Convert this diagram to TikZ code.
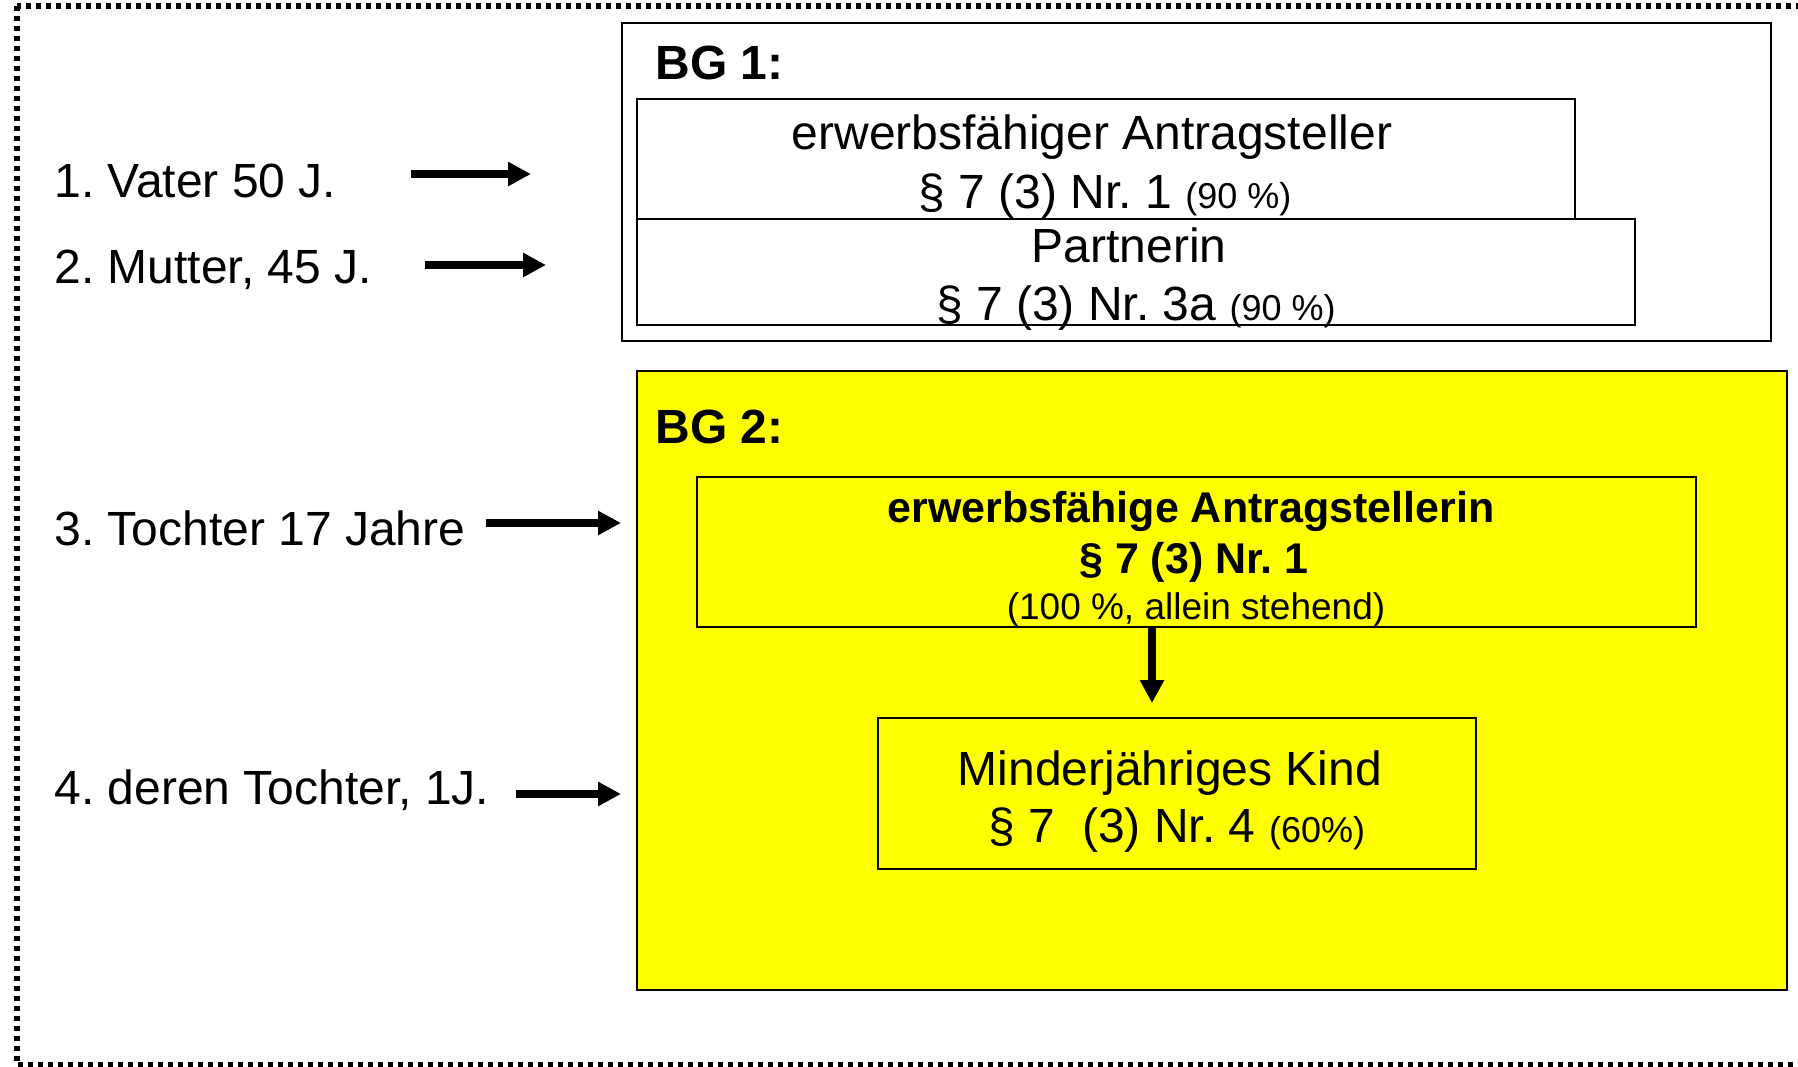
\documentclass[tikz,border=0pt]{standalone}
\usepackage{fontspec}
\setmainfont{Liberation Sans}
\usetikzlibrary{arrows.meta,fit}
\definecolor{ylw}{RGB}{255,255,0}
\tikzset{
  box/.style={draw=black, line width=1pt, fill=white, inner sep=0pt},
  ybox/.style={draw=black, line width=1pt, fill=ylw, inner sep=0pt},
  txt/.style={inner sep=0pt, font=\fontsize{24}{28}\selectfont},
  btxt/.style={inner sep=0pt, font=\fontsize{21.5}{25}\selectfont\bfseries},
  mtxt/.style={inner sep=0pt, font=\fontsize{18.5}{22}\selectfont},
  hdr/.style={inner sep=0pt, font=\fontsize{24}{28}\selectfont\bfseries},
  arr/.style={line width=4pt, -{Triangle[length=11.5pt,width=11.5pt]}},
  frame/.style={line width=2.6pt, dash pattern=on 2.6pt off 2.4pt}
}
\newcommand{\smallpct}[1]{{\fontsize{18}{20}\selectfont #1}}
\frenchspacing
\begin{document}
\begin{tikzpicture}[x=0.5pt,y=-0.5pt]
\useasboundingbox (0,0) rectangle (1798,1066);
\clip (0,0) rectangle (1798,1066);
\fill[white] (0,0) rectangle (1798,1066);
% outer dotted frame
\draw[frame] (17,6) rectangle (1815,1065);

% BG 1
\node[box, fit={(622,23) (1771,341)}] (bg1) {};
\node[hdr, anchor=base west] (bg1lab) at (655,79) {BG 1:};
\node[box, fit={(637,99) (1575,219)}] (bx1) {};
\node[box, fit={(637,219) (1635,325)}] (bx2) {};
\node[txt, anchor=base] (b1a) at (1092,149) {erwerbsfähiger Antragsteller};
\node[txt, anchor=base] (b1b) at (1105,208) {§ 7 (3) Nr. 1 \smallpct{(90 \%)}};
\node[txt, anchor=base] (b2a) at (1129,262) {Partnerin};
\node[txt, anchor=base] (b2b) at (1136,320) {§ 7 (3) Nr. 3a \smallpct{(90 \%)}};

% BG 2
\node[ybox, fit={(637,371) (1787,990)}] (bg2) {};
\node[hdr, anchor=base west] (bg2lab) at (655,443) {BG 2:};
\node[ybox, fit={(697,477) (1696,627)}] (bxa) {};
\node[btxt, anchor=base] (ka1) at (1191,522) {erwerbsfähige Antragstellerin};
\node[btxt, anchor=base] (ka2) at (1194,573) {§ 7 (3) Nr. 1};
\node[mtxt, anchor=base] (ka3) at (1196,619) {(100 \%, allein stehend)};
\node[ybox, fit={(878,718) (1476,869)}] (bxb) {};
\node[txt, anchor=base] (kb1) at (1170,785) {Minderjähriges Kind};
\node[txt, anchor=base] (kb2) at (1177,842) {§ 7\ \ (3) Nr. 4 \smallpct{(60\%)}};
\coordinate (vtip) at (1152,703);
\draw[arr] (vtip |- bxa.south) -- (vtip);

% left labels
\node[txt, anchor=base west] (t1) at (54,197) {1. Vater 50 J.};
\node[txt, anchor=base west] (t2) at (54,283) {2. Mutter, 45 J.};
\node[txt, anchor=base west] (t3) at (54,545) {3. Tochter 17 Jahre};
\node[txt, anchor=base west] (t4) at (54,804) {4. deren Tochter, 1J.};

\coordinate (a1s) at (411,174); \coordinate (a1e) at (531,174);
\coordinate (a2s) at (425,265); \coordinate (a2e) at (546,265);
\coordinate (a3s) at (486,523); \coordinate (a3e) at (621,523);
\coordinate (a4s) at (516,794); \coordinate (a4e) at (621,794);
\draw[arr] (a1s) -- (a1e);
\draw[arr] (a2s) -- (a2e);
\draw[arr] (a3s) -- (a3e);
\draw[arr] (a4s) -- (a4e);
\end{tikzpicture}
\end{document}
